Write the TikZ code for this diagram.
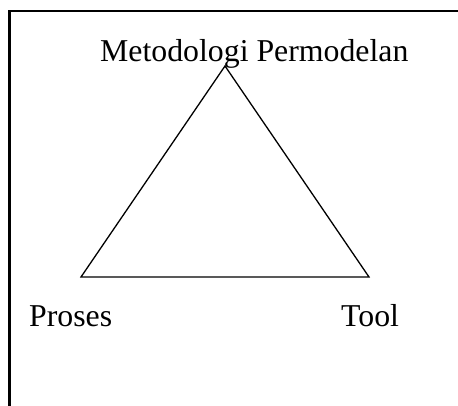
\documentclass[tikz,border=0pt]{standalone}
\usepackage{fontspec}
\setmainfont{Liberation Serif}
\usetikzlibrary{positioning}

\begin{document}
\begin{tikzpicture}[x=1pt,y=-1pt,label/.style={anchor=base west,inner sep=0pt,font=\fontsize{31.8}{36}\selectfont}]
\useasboundingbox (0,0) rectangle (458,406);
\draw[line width=2.4pt] (9.5,407)--(9.5,11)--(459,11);
\coordinate (top) at (225,66);\coordinate (left) at (81,277);\coordinate (right) at (369,277);
\draw[line width=1.3pt,line join=miter] (top)--(right)--(left)--cycle;
\node[label] (metodologi) at (100,62){Metodologi Permodelan};
\node[label] (proses) at (29,326){Proses};\node[label] (tool) at (341,326){Tool};
\end{tikzpicture}
\end{document}
